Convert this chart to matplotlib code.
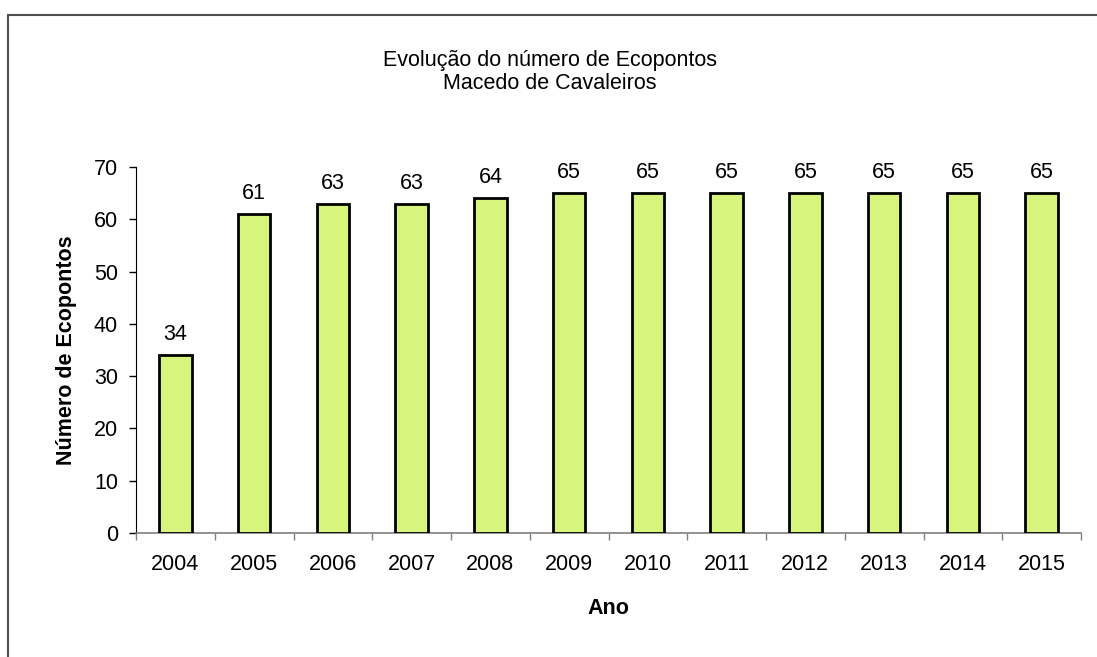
import numpy as np
import matplotlib
matplotlib.use('Agg')
import matplotlib.pyplot as plt
from matplotlib.patches import Rectangle

plt.rcParams['font.family'] = ['Liberation Sans', 'DejaVu Sans']

anos = ['2004', '2005', '2006', '2007', '2008', '2009', '2010', '2011', '2012', '2013', '2014', '2015']
ecopontos = [34, 61, 63, 63, 64, 65, 65, 65, 65, 65, 65, 65]

fs = 15.5
fig = plt.figure(figsize=(10.97, 6.57), dpi=100)
ax = fig.add_axes([136 / 1097, 1 - 533 / 657, (1081 - 136) / 1097, (533 - 167) / 657])

x = np.arange(len(anos))
bars = ax.bar(x, ecopontos, width=0.41, color='#D7F47D', edgecolor='black', linewidth=2, zorder=3)
for xi, v in zip(x, ecopontos):
    ax.annotate(str(v), (xi, v), xytext=(0, 15), textcoords='offset pixels',
                ha='center', va='baseline', fontsize=fs)

ax.set_xlim(-0.5, len(anos) - 0.5)
ax.set_ylim(0, 70)
ax.set_yticks(range(0, 71, 10))
ax.tick_params(axis='y', labelsize=fs, length=5, width=1, direction='out', pad=8)

# ticks at category boundaries, labels at centres
ax.set_xticks(np.arange(-0.5, len(anos), 1))
ax.set_xticklabels([])
ax.set_xticks(x, minor=True)
ax.set_xticklabels(anos, minor=True)
ax.tick_params(axis='x', which='major', length=5, width=1, color='#808080')
ax.tick_params(axis='x', which='minor', length=0, labelsize=fs, pad=15)

ax.spines['top'].set_visible(False)
ax.spines['right'].set_visible(False)
ax.spines['left'].set_color('black')
ax.spines['bottom'].set_color('#808080')
ax.spines['bottom'].set_linewidth(1.2)

ax.set_ylabel('Número de Ecopontos', fontsize=fs, fontweight='bold', labelpad=12)
ax.set_xlabel('Ano', fontsize=fs, fontweight='bold', labelpad=17)

fig.text(550 / 1097, 1 - 72 / 657, 'Evolução do número de Ecopontos\nMacedo de Cavaleiros',
         ha='center', va='center', fontsize=fs, linespacing=1.1)

# chart area border
fig.patches.append(Rectangle((8 / 1097, -0.05), 1.2, 1.05 - 15 / 657, transform=fig.transFigure,
                             fill=False, edgecolor='#505050', linewidth=1.5))

fig.savefig('out.png', dpi=100)
